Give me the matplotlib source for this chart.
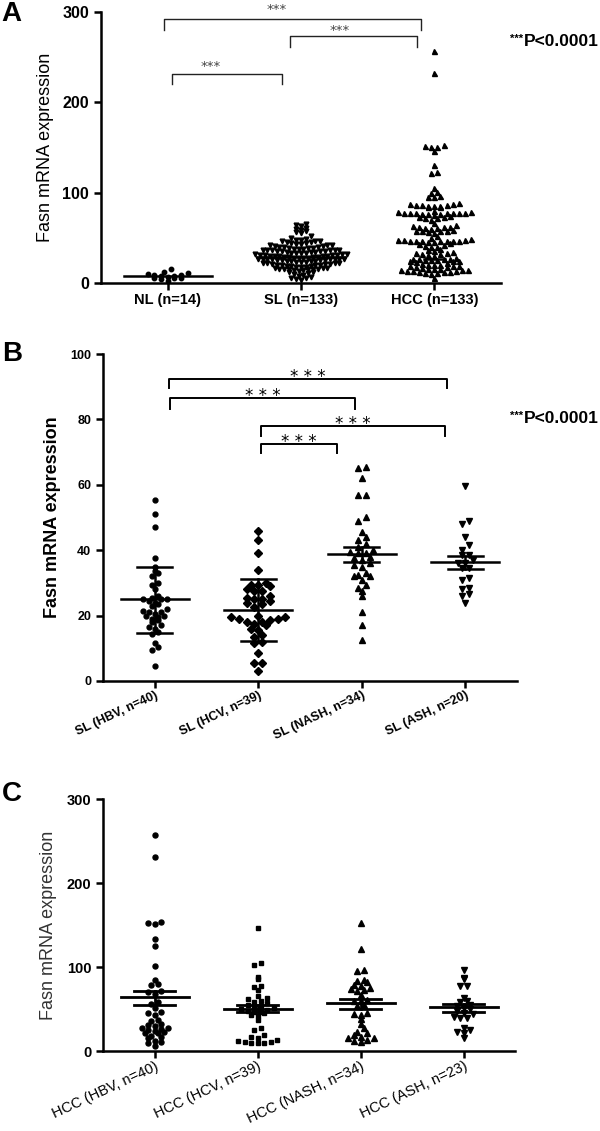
import numpy as np
import matplotlib.pyplot as plt

plt.rcParams['font.family'] = ['Liberation Sans', 'DejaVu Sans']

# ---- panel A data
a_labels = ['NL (n=14)', 'SL (n=133)', 'HCC (n=133)']
nl = [2, 4, 5, 6, 6, 7, 8, 8, 9, 9, 10, 11, 12, 15]
sl = [65, 64, 63, 61, 60, 59, 57, 56, 55, 52,
      50, 49, 48, 48, 47, 46, 46, 45, 45, 44,
      44, 43, 43, 42, 42, 42, 41, 41, 40, 40,
      40, 39, 39, 39, 38, 38, 38, 37, 37, 37,
      36, 36, 36, 35, 35, 35, 35, 34, 34, 34,
      33, 33, 33, 33, 32, 32, 32, 31, 31, 31,
      31, 30, 30, 30, 30, 29, 29, 29, 29, 28,
      28, 28, 28, 27, 27, 27, 27, 26, 26, 26,
      25, 25, 25, 25, 24, 24, 24, 24, 23, 23,
      23, 22, 22, 22, 22, 21, 21, 21, 20, 20,
      20, 20, 19, 19, 19, 18, 18, 18, 17, 17,
      17, 16, 16, 16, 15, 15, 15, 14, 14, 13,
      12, 12, 11, 10, 9, 8, 7, 6, 5, 4,
      3, 26, 30]
hcc = [257, 232, 153, 152, 151, 150, 146, 131, 123, 122,
       105, 101, 100, 96, 95, 95, 88, 87, 87, 86,
       86, 86, 85, 85, 85, 84, 84, 80, 79, 79,
       78, 78, 78, 77, 77, 77, 77, 76, 76, 76,
       75, 74, 73, 73, 72, 72, 70, 66, 64, 63,
       62, 62, 62, 61, 61, 60, 59, 58, 58, 57,
       57, 56, 55, 52, 50, 49, 48, 48, 48, 47,
       47, 47, 47, 46, 46, 46, 45, 45, 44, 43,
       42, 41, 40, 40, 38, 36, 35, 34, 33, 33,
       32, 32, 31, 30, 28, 27, 26, 26, 26, 25,
       25, 25, 24, 24, 24, 23, 22, 21, 20, 20,
       20, 19, 19, 19, 18, 18, 17, 16, 15, 15,
       14, 14, 14, 13, 13, 13, 12, 12, 12, 11,
       11, 10, 5]
a_median = [8, 29, 27]
a_med_half = [0.33, 0.33, 0.08]
# brackets: left, right, line level, leg bottom, star x, star y
a_br_x1 = [-0.03, 0.92, 0.03]
a_br_x2 = [1.90, 1.87, 0.86]
a_br_y = [292, 273, 231]
a_br_leg = [280, 261, 220]
a_star_x = [0.82, 1.29, 0.32]
a_star_y = [299, 276, 236]

# ---- panel B data
b_labels = ['SL (HBV, n=40)', 'SL (HCV, n=39)', 'SL (NASH, n=34)', 'SL (ASH, n=20)']
b_hbv = [55.5, 51, 47, 37.5, 35, 33.5, 33, 32, 30, 29.5, 28, 26, 25.5, 25, 25, 25,
         24.5, 24, 23.5, 23, 22, 21.5, 21, 21, 20.5, 20, 20, 19.5, 19, 18.5, 18, 17,
         16.5, 16, 15, 14.5, 11.5, 10.5, 9.5, 4.5]
b_hcv = [46, 43, 39, 34, 30, 29.5, 29.5, 29, 28, 27.5, 27.5, 26, 25.5, 25, 25, 24.5,
         24, 23.5, 22.5, 20, 19.5, 19.5, 19, 19, 18.5, 18, 18, 17.5, 17, 16, 15.5, 14,
         13.5, 12, 11.5, 8.5, 5.5, 5.5, 3]
b_nash = [65.5, 65, 62, 57, 57, 50, 49, 45.5, 44, 43, 42, 41, 40, 39.5, 39, 39, 38,
          37.5, 37, 36, 35.5, 35, 33, 32.5, 32, 32, 31, 29.5, 28.5, 27.5, 26, 21, 17, 12.5]
b_ash = [59.6, 49, 48, 44, 41.5, 40, 38.5, 38.5, 37, 36, 36, 34.5, 34.5, 31.5, 31,
         28.5, 28, 26.5, 26, 24]
b_mean = [25, 21.8, 38.8, 36.5]
b_lo = [14.6, 12.1, 36.5, 34.2]
b_hi = [35, 31.2, 40.9, 38.3]
b_br_x1 = [0.14, 0.15, 1.03, 1.03]
b_br_x2 = [2.82, 1.93, 2.80, 1.76]
b_br_y = [92.4, 86.5, 78, 72.5]
b_br_leg = [89.6, 83.2, 75, 69.7]

# ---- panel C data
c_labels = ['HCC (HBV, n=40)', 'HCC (HCV, n=39)', 'HCC (NASH, n=34)', 'HCC (ASH, n=23)']
c_hbv = [257, 231, 154, 152, 151, 133, 125, 101, 85, 80,
         79, 71, 70, 68, 58, 56, 51, 46, 45, 43,
         37, 36, 32, 31, 30, 28, 27, 26, 25, 24,
         23, 22, 21, 18, 17, 16, 12, 11, 10, 6]
c_hcv = [146, 105, 102, 88, 86, 77, 76, 73, 66, 63,
         62, 59, 58, 57, 55, 54, 53, 51, 50, 49,
         48, 47, 46, 45, 43, 42, 37, 27, 25, 19,
         17, 16, 13, 12, 11, 11, 10, 10, 10]
c_nash = [152, 121, 96, 95, 84, 83, 82, 79, 78, 75,
          74, 73, 71, 67, 61, 60, 59, 55, 54, 45,
          44, 43, 38, 32, 27, 23, 22, 19, 17, 16,
          15, 13, 12, 11]
c_ash = [96, 87, 86, 78, 77, 63, 59, 58, 55, 54,
         51, 50, 48, 45, 44, 40, 39, 39, 27, 25,
         23, 22, 15]
c_mean = [64.5, 50.4, 57.5, 52]
c_lo = [54.8, 46, 50, 46.4]
c_hi = [71.8, 54.8, 61.5, 56.3]


def swarm(vals, bin_h, dx):
    # GraphPad-like column scatter: points in the same row spread sideways
    v = np.asarray(vals, float)
    offs = np.zeros(len(v))
    bins = np.floor((v - v.min()) / bin_h).astype(int)
    for b in np.unique(bins):
        idx = np.where(bins == b)[0]
        idx = idx[np.argsort(v[idx])]
        n = len(idx)
        slots = np.arange(n) - (n - 1) / 2
        order = np.argsort(np.abs(slots), kind='stable')
        offs[idx] = slots[order] * dx
    return offs


def style(ax, ymax, ystep, tsize):
    for s in ['top', 'right']:
        ax.spines[s].set_visible(False)
    for s in ['left', 'bottom']:
        ax.spines[s].set_linewidth(1.8)
    ax.set_ylim(0, ymax)
    ax.set_yticks(np.arange(0, ymax + 1, ystep))
    ax.tick_params(axis='both', direction='out', length=5, width=1.8)
    for t in ax.get_yticklabels():
        t.set_fontweight('bold')
        t.set_fontsize(tsize)


fig = plt.figure(figsize=(6, 11.31), dpi=100)

# ================= A
axA = fig.add_axes([0.1683, 0.7498, 0.6667, 0.2396])
style(axA, 300, 100, 11.5)
axA.set_xlim(-0.5, 2.5)
a_groups = [nl, sl, hcc]
a_marks = ['o', 'v', '^']
a_ms = [3.2, 3.4, 3.6]
a_dx = [0.05, 0.036, 0.046]
for i, vals in enumerate(a_groups):
    x = i + swarm(vals, 5, a_dx[i])
    axA.plot(x, vals, ls='none', marker=a_marks[i], ms=a_ms[i], color='k', clip_on=False)
    axA.plot([i - a_med_half[i], i + a_med_half[i]], [a_median[i]] * 2, color='k', lw=1.8)
axA.set_xticks(range(3))
axA.set_xticklabels(a_labels, fontsize=10.5, fontweight='bold')
axA.tick_params(axis='x', pad=2)
for i in range(3):
    axA.plot([a_br_x1[i], a_br_x1[i], a_br_x2[i], a_br_x2[i]],
             [a_br_leg[i], a_br_y[i], a_br_y[i], a_br_leg[i]], color='#222', lw=1.0, clip_on=False)
    axA.text(a_star_x[i], a_star_y[i], '***', ha='center', va='baseline', fontsize=9.5,
             color='#444', family='DejaVu Sans')
axA.set_ylabel('Fasn mRNA expression', fontsize=13)
axA.yaxis.set_label_coords(-0.1175, 0.5)

# ================= B
axB = fig.add_axes([0.1717, 0.3979, 0.69, 0.2891])
style(axB, 100, 20, 9)
axB.set_xlim(-0.5, 3.5)
b_groups = [b_hbv, b_hcv, b_nash, b_ash]
b_marks = ['o', 'D', '^', 'v']
b_ms = [3.5, 4.0, 4.6, 4.6]
b_dx = [0.058, 0.075, 0.075, 0.07]
b_bin = [1.6, 2.4, 2.0, 2.0]
for i, vals in enumerate(b_groups):
    x = i + swarm(vals, b_bin[i], b_dx[i])
    axB.plot(x, vals, ls='none', marker=b_marks[i], ms=b_ms[i], color='k', clip_on=False)
    axB.plot([i - 0.33, i + 0.33], [b_mean[i]] * 2, color='k', lw=1.8)
    axB.plot([i, i], [b_lo[i], b_hi[i]], color='k', lw=1.8)
    for yv in (b_lo[i], b_hi[i]):
        axB.plot([i - 0.17, i + 0.17], [yv, yv], color='k', lw=1.8)
axB.set_xticks(range(4))
axB.set_xticklabels(b_labels, fontsize=9, fontweight='bold', rotation=25,
                    ha='right', rotation_mode='anchor')
axB.tick_params(axis='x', pad=1)
for i in range(4):
    axB.plot([b_br_x1[i], b_br_x1[i], b_br_x2[i], b_br_x2[i]],
             [b_br_leg[i], b_br_y[i], b_br_y[i], b_br_leg[i]], color='k', lw=1.4, clip_on=False)
    axB.text((b_br_x1[i] + b_br_x2[i]) / 2, b_br_y[i] - 1.0, '* * *', ha='center',
             va='baseline', fontsize=12, family='DejaVu Sans')
axB.set_ylabel('Fasn mRNA expression', fontsize=13, fontweight='bold')
axB.yaxis.set_label_coords(-0.101, 0.5)

# ================= C
axC = fig.add_axes([0.1717, 0.0707, 0.6867, 0.2228])
style(axC, 300, 100, 10.5)
axC.set_xlim(-0.5, 3.5)
c_groups = [c_hbv, c_hcv, c_nash, c_ash]
c_marks = ['o', 's', '^', 'v']
c_ms = [3.6, 3.4, 4.0, 4.0]
for i, vals in enumerate(c_groups):
    x = i + swarm(vals, 6, 0.063)
    axC.plot(x, vals, ls='none', marker=c_marks[i], ms=c_ms[i], color='k', clip_on=False)
    axC.plot([i - 0.33, i + 0.33], [c_mean[i]] * 2, color='k', lw=2.0)
    axC.plot([i, i], [c_lo[i], c_hi[i]], color='k', lw=2.0)
    for yv in (c_lo[i], c_hi[i]):
        axC.plot([i - 0.2, i + 0.2], [yv, yv], color='k', lw=2.0)
axC.set_xticks(range(4))
axC.set_xticklabels(c_labels, fontsize=10.5, rotation=25, ha='right', rotation_mode='anchor')
axC.tick_params(axis='x', pad=1)
axC.set_ylabel('Fasn mRNA expression', fontsize=13, color='#333')
axC.yaxis.set_label_coords(-0.112, 0.5)

# ---- panel letters and p-value notes
fig.text(0.003, 0.9995, 'A', fontsize=20, fontweight='bold', va='top')
fig.text(0.003, 0.6985, 'B', fontsize=20, fontweight='bold', va='top')
fig.text(0.003, 0.3095, 'C', fontsize=20, fontweight='bold', va='top')
for yf in (1 - 42 / 1131, 1 - 419 / 1131):
    fig.text(0.998, yf, 'P<0.0001', ha='right', va='center', fontsize=12.5, fontweight='bold')
    fig.text(0.872, yf + 0.003, '***', ha='right', va='center', fontsize=8, fontweight='bold')

fig.savefig('out.png', dpi=100)
